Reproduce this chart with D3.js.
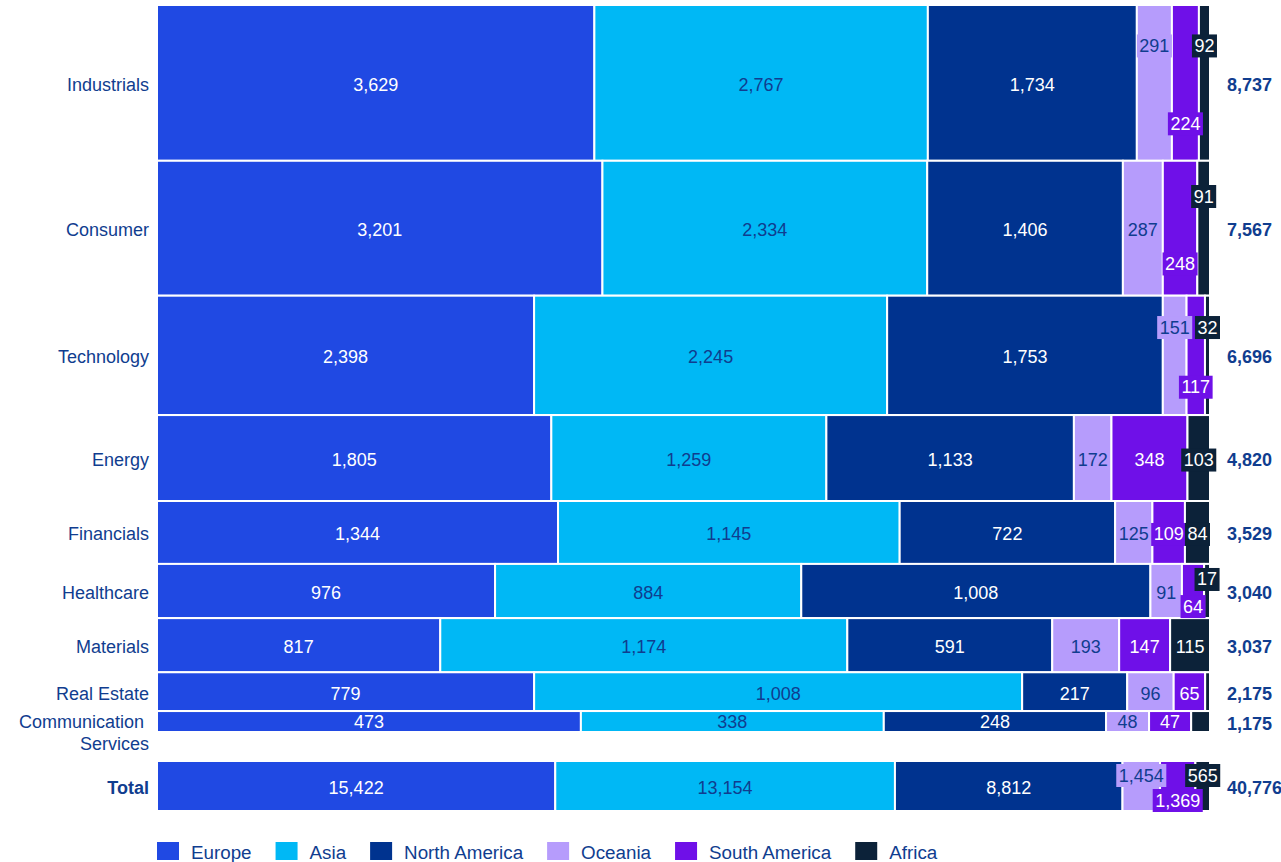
<!DOCTYPE html>
<html>
<head>
<meta charset="utf-8">
<script src="https://cdn.jsdelivr.net/npm/d3@7/dist/d3.min.js"></script>
<style>
  body { margin: 0; background: #fff; }
  text { font-family: "Liberation Sans", Arial, sans-serif; }
</style>
</head>
<body>
<div id="chart"></div>
<script>
// Datos: sectores y valores por región
const sectors = ["Industrials", "Consumer", "Technology", "Energy", "Financials",
  "Healthcare", "Materials", "Real Estate", "Communication Services"];
const regions = ["Europe", "Asia", "North America", "Oceania", "South America", "Africa"];

const europe       = [3629, 3201, 2398, 1805, 1344, 976, 817, 779, 473];
const asia         = [2767, 2334, 2245, 1259, 1145, 884, 1174, 1008, 338];
const northAmerica = [1734, 1406, 1753, 1133, 722, 1008, 591, 217, 248];
const oceania      = [291, 287, 151, 172, 125, 91, 193, 96, 48];
const southAmerica = [224, 248, 117, 348, 109, 64, 147, 65, 47];
const africa       = [92, 91, 32, 103, 84, 17, 115, 10, 21];

const series = [europe, asia, northAmerica, oceania, southAmerica, africa];
const colors = ["#2049e3", "#00b8f5", "#00338f", "#b69cfc", "#6f10e8", "#0c2239"];
const darkText = [false, true, false, true, false, false];
const textBlue = "#103d8f";

const width = 1281, height = 862;
const fmt = d3.format(",");
const shift = 2; // pequeño ajuste vertical del texto

const svg = d3.select("#chart").append("svg")
  .attr("width", width)
  .attr("height", height);

// Filas: cada sector con sus valores
const rows = sectors.map((s, i) => ({ name: s, values: series.map(a => a[i]) }));
rows.forEach(r => r.total = d3.sum(r.values));
const grandTotal = d3.sum(rows, r => r.total);
const totalRow = { name: "Total", values: series.map(a => d3.sum(a)), isTotal: true };
totalRow.total = d3.sum(totalRow.values);

const x = d3.scaleLinear().domain([0, 1]).range([157, 1210]);
const y = d3.scaleLinear().domain([0, grandTotal]).range([5, 732]);

let cum = 0;
rows.forEach(r => {
  r.y0 = y(cum);
  cum += r.total;
  r.y1 = y(cum);
});
totalRow.y0 = 761;
totalRow.y1 = 811;
const allRows = rows.concat([totalRow]);

// Segmentos de cada fila
allRows.forEach(r => {
  let c = 0;
  r.segs = r.values.map((v, j) => {
    const s = { v, j, x0: x(c / r.total), x1: x((c + v) / r.total), row: r };
    c += v;
    return s;
  });
});

// Línea del eje
svg.append("line")
  .attr("x1", 156.5).attr("x2", 156.5)
  .attr("y1", 4).attr("y2", 733)
  .attr("stroke", "#dedede")
  .attr("stroke-width", 1);

const gRows = svg.append("g");
allRows.forEach(r => {
  gRows.append("g")
    .selectAll("rect")
    .data(r.segs)
    .enter()
    .append("rect")
    .attr("x", d => d.x0)
    .attr("y", r.y0)
    .attr("width", d => Math.max(0, d.x1 - d.x0))
    .attr("height", r.y1 - r.y0)
    .attr("fill", d => colors[d.j])
    .attr("stroke", "#fff")
    .attr("stroke-width", 2);
});

// Etiquetas de sectores
allRows.forEach(r => {
  const cy = (r.y0 + r.y1) / 2;
  const words = r.name === "Communication Services" ? ["Communication ", "Services"] : [r.name];
  const t = svg.append("text")
    .attr("x", 149)
    .attr("y", cy + (words.length > 1 ? 0 : shift))
    .attr("text-anchor", "end")
    .attr("dominant-baseline", "central")
    .attr("font-size", 18)
    .attr("font-weight", r.isTotal ? "bold" : "normal")
    .attr("fill", textBlue);
  words.forEach((w, k) => {
    t.append("tspan").attr("x", 149).attr("dy", k === 0 ? 0 : 22).text(w);
  });

  // Total a la derecha
  svg.append("text")
    .attr("x", 1227)
    .attr("y", cy + shift)
    .attr("dominant-baseline", "central")
    .attr("font-size", 18)
    .attr("font-weight", "bold")
    .attr("fill", textBlue)
    .text(fmt(r.total));
});

// Etiquetas de valores con anti-solapamiento
const gLabels = svg.append("g");
allRows.forEach(r => {
  const h = r.y1 - r.y0;
  const cy = (r.y0 + r.y1) / 2;
  const labels = r.segs.filter(s => s.v > 0).map(s => {
    const g = gLabels.append("g");
    const t = g.append("text")
      .attr("text-anchor", "middle")
      .attr("dominant-baseline", "central")
      .attr("font-size", 18)
      .attr("fill", darkText[s.j] ? textBlue : "#fff")
      .text(fmt(s.v));
    const tw = t.node().getComputedTextLength();
    const cx = (s.x0 + s.x1) / 2;
    return { s, g, t, tw, cx, bw: tw + 5, bh: 23, b0: cx - (tw + 5) / 2, b1: cx + (tw + 5) / 2, dy: 0, hide: false, moved: false };
  });

  // grupos de etiquetas que se solapan
  const groups = [];
  labels.forEach((l, i) => {
    if (i > 0 && labels[i - 1].b1 > l.b0 + 2) groups[groups.length - 1].push(l);
    else groups.push([l]);
  });
  groups.forEach(gr => {
    if (gr.length < 2) return;
    if (h < 45) {
      gr.slice(1).forEach(l => l.hide = true);
      return;
    }
    let up = true;
    for (let k = gr.length - 1; k >= 0; k--) {
      gr[k].dy = up ? -h / 4 : h / 4;
      gr[k].moved = true;
      up = !up;
    }
  });

  labels.forEach(l => {
    const segW = l.s.x1 - l.s.x0;
    if (l.bw > segW && l.bh > h) l.hide = true;
    if (l.hide) { l.g.remove(); return; }
    const ly = cy + l.dy + (h > 30 ? shift : 0);
    l.t.attr("x", l.cx).attr("y", ly);
    if (l.moved || l.bw > segW - 2) {
      l.g.insert("rect", "text")
        .attr("x", l.b0)
        .attr("y", ly - l.bh / 2)
        .attr("width", l.bw)
        .attr("height", l.bh)
        .attr("fill", colors[l.s.j]);
    }
  });
});

// Leyenda
const legend = svg.append("g");
let lx = 157;
regions.forEach((name, j) => {
  legend.append("rect")
    .attr("x", lx).attr("y", 842)
    .attr("width", 22).attr("height", 18)
    .attr("fill", colors[j]);
  const t = legend.append("text")
    .attr("x", lx + 34)
    .attr("y", 852)
    .attr("dominant-baseline", "central")
    .attr("font-size", 18.8)
    .attr("fill", textBlue)
    .text(name);
  lx += 34 + t.node().getComputedTextLength() + 24;
});
</script>
</body>
</html>
